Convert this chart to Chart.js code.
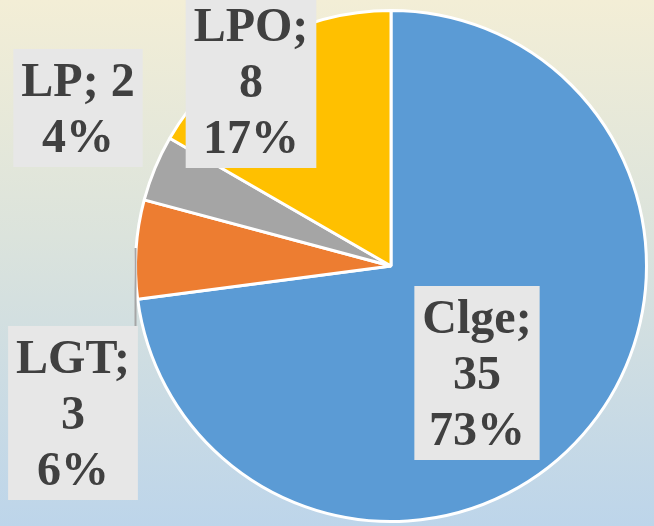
<!DOCTYPE html>
<html>
<head>
<meta charset="utf-8">
<script src="https://cdn.jsdelivr.net/npm/chart.js@4.4.1/dist/chart.umd.min.js"></script>
<style>
    html, body { margin: 0; padding: 0; }
    body {
        width: 654px; height: 526px; overflow: hidden;
        background: linear-gradient(to bottom, #f3eed6 0%, #dbe3dc 45%, #bdd5ea 100%);
    }
    #wrap { position: relative; width: 654px; height: 526px; }
</style>
</head>
<body>
<div id="wrap"><canvas id="pie-chart" width="654" height="526"></canvas></div>
<script>
    "use strict";

    // Data
    var categories = ["Clge", "LGT", "LP", "LPO"];
    var counts = [35, 3, 2, 8];
    var colors = ["#5b9bd5", "#ed7d31", "#a5a5a5", "#ffc000"];

    // Label boxes (center of each box), one per slice
    var labelBoxes = [
        { x: 477, y: 373, lines: 3 },
        { x: 73, y: 413, lines: 3 },
        { x: 78, y: 108, lines: 2 },
        { x: 251, y: 81, lines: 3 }
    ];

    var total = counts.reduce(function (a, b) { return a + b; }, 0);

    function labelLines(i) {
        var name = categories[i], v = counts[i];
        var pct = Math.round(v / total * 100) + "%";
        if (labelBoxes[i].lines === 2) return [name + "; " + v, pct];
        return [name + ";", String(v), pct];
    }

    // Boxed data labels + leader line
    var boxLabels = {
        id: "boxLabels",
        afterDatasetsDraw: function (chart) {
            var ctx = chart.ctx;
            var meta = chart.getDatasetMeta(0);
            var lineH = 56;
            ctx.save();
            ctx.font = "bold 48px 'Times New Roman', 'Liberation Serif', serif";
            ctx.textAlign = "center";
            ctx.textBaseline = "alphabetic";

            // leader line for LGT
            var arc = meta.data[1];
            var lx = Math.round(arc.x - arc.outerRadius) - 0.5;
            ctx.strokeStyle = "#a6a6a6";
            ctx.lineWidth = 2;
            ctx.beginPath();
            ctx.moveTo(lx, 248);
            ctx.lineTo(lx, 326);
            ctx.stroke();

            labelBoxes.forEach(function (b, i) {
                var lines = labelLines(i);
                var w = 0;
                lines.forEach(function (t) { w = Math.max(w, ctx.measureText(t).width); });
                var bw = w + 16, bh = lines.length * lineH + 6;
                ctx.fillStyle = "#e7e7e7";
                ctx.fillRect(b.x - bw / 2, b.y - bh / 2, bw, bh);
                ctx.fillStyle = "#404040";
                var top = b.y - (lines.length * lineH) / 2;
                lines.forEach(function (t, k) {
                    ctx.fillText(t, b.x, top + k * lineH + 44);
                });
            });
            ctx.restore();
        }
    };

    var ctx = document.getElementById("pie-chart").getContext("2d");
    new Chart(ctx, {
        type: "pie",
        data: {
            labels: categories,
            datasets: [{
                data: counts,
                backgroundColor: colors,
                borderColor: "#ffffff",
                borderWidth: 3
            }]
        },
        options: {
            responsive: false,
            animation: false,
            layout: { padding: { left: 134, right: 6, top: 9, bottom: 3 } },
            plugins: {
                legend: { display: false },
                tooltip: { enabled: false }
            }
        },
        plugins: [boxLabels]
    });
</script>
</body>
</html>
